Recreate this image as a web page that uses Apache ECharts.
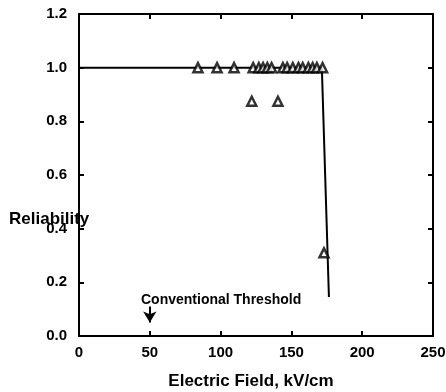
<!DOCTYPE html>
<html>
<head>
<meta charset="utf-8">
<script src="https://cdn.jsdelivr.net/npm/echarts@6/dist/echarts.min.js"></script>
<style>
  html, body { margin: 0; padding: 0; background: #fff; }
  #chart { width: 446px; height: 392px; }
</style>
</head>
<body>
<div id="chart"></div>
<script>
// reliability vs electric field
const fitLine = [[0, 1.0], [171.5, 1.0], [176.5, 0.145]];
const measured = [
  [84, 1.0], [97.5, 1.0], [109.5, 1.0],
  [123, 1.0], [127, 1.0], [130, 1.0], [133, 1.0], [136, 1.0],
  [144, 1.0], [147, 1.0], [151, 1.0], [155, 1.0], [158, 1.0],
  [162, 1.0], [165, 1.0], [168, 1.0], [172, 1.0],
  [122, 0.875], [140.5, 0.875],
  [173, 0.31]
];
const thresholdArrow = [[50, 0.11], [50, 0.05]];

const font = 'Liberation Sans, Arial, sans-serif';

const chart = echarts.init(document.getElementById('chart'));

const axisCommon = {
  axisLine: { show: true, onZero: false, lineStyle: { color: '#000', width: 2 } },
  axisTick: { show: true, inside: true, length: 5, lineStyle: { color: '#000', width: 2 } },
  splitLine: { show: false }
};

chart.setOption({
  animation: false,
  grid: { left: 79, right: 13, top: 14, bottom: 56, containLabel: false, outerBoundsMode: 'none' },
  xAxis: [{
    type: 'value', min: 0, max: 250, interval: 50, position: 'bottom',
    ...axisCommon,
    axisLabel: { color: '#000', fontFamily: font, fontWeight: 'bold', fontSize: 15, margin: 9 },
    name: 'Electric Field, kV/cm', nameLocation: 'middle', nameGap: 37,
    nameTextStyle: { color: '#000', fontFamily: font, fontWeight: 'bold', fontSize: 17, padding: [0, 10, 0, 0] }
  }, {
    type: 'value', min: 0, max: 250, interval: 50, position: 'top',
    ...axisCommon, axisLabel: { show: false }
  }],
  yAxis: [{
    type: 'value', min: 0, max: 1.2, interval: 0.2, position: 'left',
    ...axisCommon,
    axisLabel: { color: '#000', fontFamily: font, fontWeight: 'bold', fontSize: 15, margin: 12,
      formatter: v => v.toFixed(1) }
  }, {
    type: 'value', min: 0, max: 1.2, interval: 0.2, position: 'right',
    ...axisCommon, axisLabel: { show: false }
  }],
  graphic: [{
    type: 'text', left: 9, top: 211,
    style: { text: 'Reliability', fill: '#000', font: 'bold 17px ' + font }
  }, {
    type: 'text', left: 141, top: 293,
    style: { text: 'Conventional Threshold', fill: '#000', font: 'bold 14px ' + font }
  }],
  series: [{
    type: 'line', data: fitLine, symbol: 'none',
    lineStyle: { color: '#000', width: 2 }, z: 2,
    markLine: {
      silent: true, symbol: ['none', 'arrow'], symbolSize: [10, 11],
      label: { show: false },
      lineStyle: { color: '#000', width: 2, type: 'solid' },
      data: [[{ coord: thresholdArrow[0] }, { coord: thresholdArrow[1] }]]
    }
  }, {
    type: 'scatter', data: measured, symbol: 'triangle', symbolSize: 9,
    itemStyle: { color: '#fff', borderColor: '#000', borderWidth: 2.5 }, z: 3
  }]
});
</script>
</body>
</html>
